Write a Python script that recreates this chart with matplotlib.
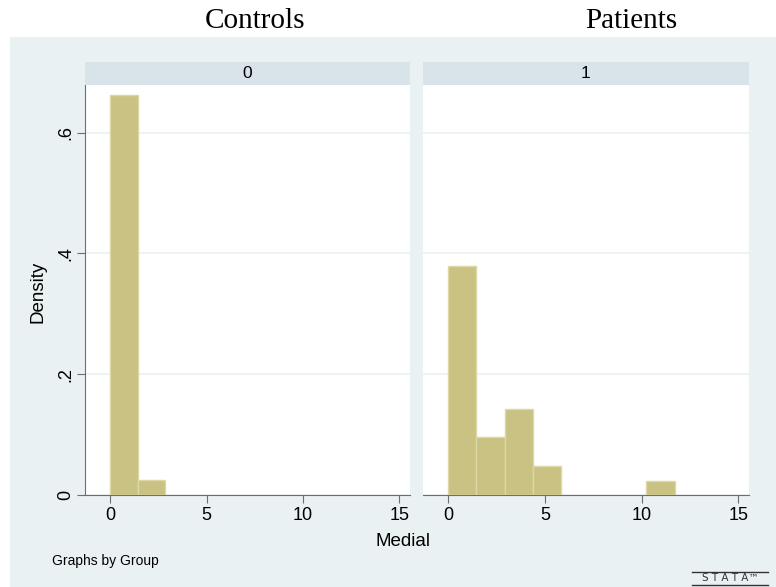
#!/usr/bin/env python

import matplotlib
matplotlib.use('Agg')
import matplotlib.pyplot as plt
from matplotlib.patches import Rectangle
from matplotlib.lines import Line2D
import numpy as np

# histogram data (bin left edges, widths, densities)
panel_titles = ["Controls", "Patients"]
strip_labels = ["0", "1"]
controls_edges = [0.0, 1.43]
controls_width = 1.43
controls_density = [0.663, 0.025]
patients_edges = [0.0, 1.4625, 2.925, 4.3875, 10.2375]
patients_width = 1.4625
patients_density = [0.379, 0.096, 0.143, 0.048, 0.024]
xticks = [0, 5, 10, 15]
yticks = [0, 0.2, 0.4, 0.6]
ytick_labels = ["0", ".2", ".4", ".6"]

W, H = 776, 587
bg = '#eaf1f3'
strip_col = '#d9e4ea'
bar_col = '#c9c283'
bar_edge = '#dcd8a6'
axis_col = '#6e6e6e'

fig = plt.figure(figsize=(W / 100, H / 100), dpi=100)
fig.patch.set_facecolor('white')
fig.patches.append(Rectangle((10 / W, 0), 1 - 10 / W, 1 - 37 / H,
                             transform=fig.transFigure, facecolor=bg,
                             edgecolor='none', zorder=-10))

def px(x0, y0, x1, y1):
    return [x0 / W, 1 - y1 / H, (x1 - x0) / W, (y1 - y0) / H]

panels = [
    (px(85, 85, 410, 495), px(85, 62, 410, 85), controls_edges, controls_width, controls_density, True, 255),
    (px(423, 85, 749, 495), px(423, 62, 749, 85), patients_edges, patients_width, patients_density, False, 631),
]

for i, (rect, srect, edges, width, dens, show_y, tx) in enumerate(panels):
    ax = fig.add_axes(rect)
    ax.set_facecolor('white')
    ax.bar(edges, dens, width=width, align='edge', color=bar_col,
           edgecolor=bar_edge, linewidth=1.0, zorder=3)
    ax.set_xlim(-1.3, 15.55)
    ax.set_ylim(0, 0.679)
    ax.set_xticks(xticks)
    ax.set_xticklabels([str(t) for t in xticks], fontsize=13, family='Liberation Sans')
    ax.set_yticks(yticks)
    ax.grid(axis='y', color=bg, linewidth=1.2, zorder=0)
    ax.set_axisbelow(True)
    for s in ['top', 'right']:
        ax.spines[s].set_visible(False)
    ax.spines['bottom'].set_color(axis_col)
    ax.spines['left'].set_color(axis_col)
    ax.tick_params(axis='x', direction='out', length=6, color=axis_col, pad=3)
    if show_y:
        ax.set_yticklabels(ytick_labels, fontsize=13, family='Liberation Sans',
                           rotation=90, va='center')
        ax.tick_params(axis='y', direction='out', length=6, color=axis_col, pad=2)
    else:
        ax.spines['left'].set_visible(False)
        ax.tick_params(axis='y', length=0, labelleft=False)

    sax = fig.add_axes(srect)
    sax.set_facecolor(strip_col)
    sax.set_xticks([])
    sax.set_yticks([])
    for s in sax.spines.values():
        s.set_visible(False)
    sax.text(0.5, 0.5, strip_labels[i], ha='center', va='center',
             fontsize=12.5, family='Liberation Sans', transform=sax.transAxes)

    fig.text(tx / W, 1 - 21 / H, panel_titles[i], ha='center', va='center',
             fontsize=21, family='Liberation Serif')

fig.text(38 / W, 1 - 292 / H, 'Density', rotation=90, ha='center', va='center',
         fontsize=13.5, family='Liberation Sans')
fig.text(403 / W, 1 - 541 / H, 'Medial', ha='center', va='center',
         fontsize=13.5, family='Liberation Sans')
fig.text(52 / W, 1 - 561 / H, 'Graphs by Group', ha='left', va='center',
         fontsize=10, family='Liberation Sans')

# stata logo
fig.text(730 / W, 1 - 578 / H, 'S T A T A\u2122', ha='center', va='center',
         fontsize=7.5, family='DejaVu Sans', color='#333333')
fig.add_artist(Line2D([692 / W, 768 / W], [1 - 572 / H, 1 - 572 / H],
                      transform=fig.transFigure, color='#333333', linewidth=1))
fig.add_artist(Line2D([692 / W, 768 / W], [1 - 585 / H, 1 - 585 / H],
                      transform=fig.transFigure, color='#333333', linewidth=1))

plt.savefig('out.png', dpi=100)
